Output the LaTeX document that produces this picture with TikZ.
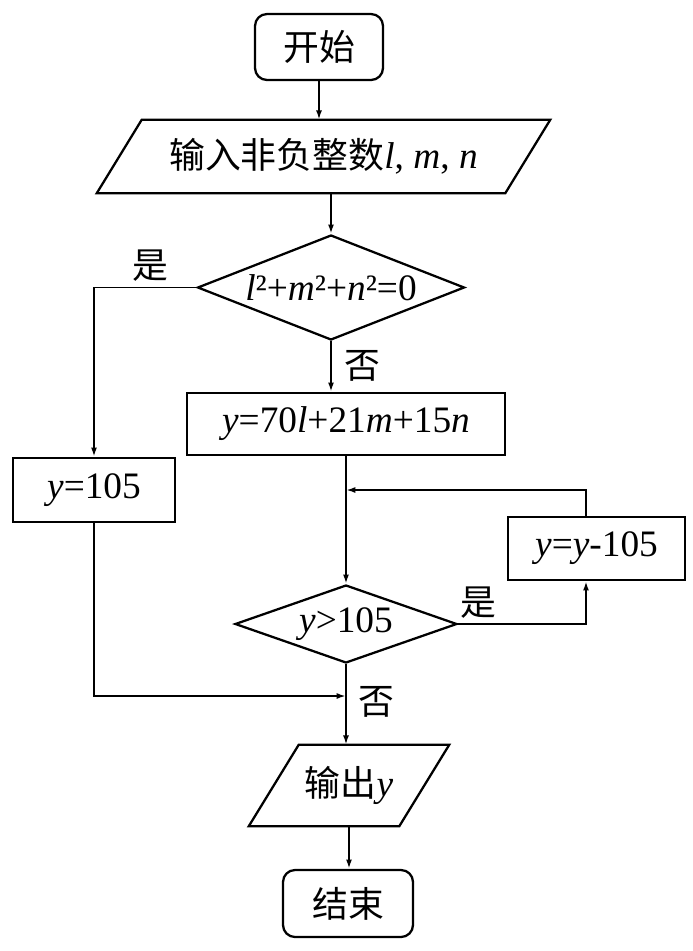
\documentclass[tikz,border=0pt]{standalone}
\usepackage{fontspec}
\setmainfont{Liberation Serif}
\newfontfamily\cjk[Scale=0.96]{Noto Sans CJK SC}
\usetikzlibrary{shapes.geometric,arrows.meta}
\def\px{*0.75pt}
\begin{document}
\begin{tikzpicture}[x=0.75pt,y=-0.75pt,
  every node/.style={font=\fontsize{28}{32}\selectfont, inner sep=0pt},
  shapeline/.style={draw, line width=1.7pt, line join=miter},
  term/.style={shapeline, rounded corners=9pt},
  procbox/.style={shapeline, rectangle},
  iobox/.style={rectangle},
  dec/.style={shapeline, diamond},
  arr/.style={line width=1.4pt, -{Latex[length=7pt,width=4.5pt]}},
  lab/.style={}]
\useasboundingbox (0,0) rectangle (693,951);

\node[term, minimum width=128\px, minimum height=66\px] (start) at (319,47) {\cjk 开始};
\node[iobox, minimum width=453\px, minimum height=73\px] (in) at (323.5,156.5) {{\cjk 输入非负整数}\textit{l}, \textit{m}, \textit{n}};
\draw[shapeline] ([xshift=45\px]in.north west) -- (in.north east) -- ([xshift=-45\px]in.south east) -- (in.south west) -- cycle;
\node[dec, shape aspect=2.54, minimum width=267\px, minimum height=105\px] (d1) at (331,287.5) {\textit{l}²+\textit{m}²+\textit{n}²=0};
\node[procbox, minimum width=318\px, minimum height=62\px] (box1) at (346,424) {\textit{y}=70\textit{l}+21\textit{m}+15\textit{n}};
\node[procbox, minimum width=162\px, minimum height=64\px] (box2) at (94,490) {\textit{y}=105};
\node[procbox, minimum width=177\px, minimum height=63\px] (box3) at (596.5,548.5) {\textit{y}=\textit{y}-105};
\node[dec, shape aspect=2.85, minimum width=222\px, minimum height=78\px] (d2) at (346,624) {\textit{y}>105};
\node[iobox, minimum width=200\px, minimum height=81\px] (out) at (349,785.5) {{\cjk 输出}\textit{y}};
\draw[shapeline] ([xshift=50\px]out.north west) -- (out.north east) -- ([xshift=-50\px]out.south east) -- (out.south west) -- cycle;
\node[term, minimum width=130\px, minimum height=67\px] (end) at (348,903.5) {\cjk 结束};

\node[lab] (l1) at (150,266) {\cjk 是};
\node[lab] (l2) at (362,366) {\cjk 否};
\node[lab] (l3) at (478,603) {\cjk 是};
\node[lab] (l4) at (376,702) {\cjk 否};

\coordinate (lp) at (586,490);
\coordinate (lb) at (94,696);

\draw[arr] (start.south) -- (start.south |- in.north);
\draw[arr] (d1.north |- in.south) -- (d1.north);
\draw[arr] (d1.west) -| (box2.north);
\draw[arr] (d1.south) -- (d1.south |- box1.north);
\draw[arr] (d2.north |- box1.south) -- (d2.north);
\draw[arr] (box3.north -| lp) -- (lp) -- (lp -| d2.north);
\draw[arr] (d2.east) -| (box3.south -| lp);
\draw[arr] (box2.south) -- (lb) -- (lb -| d2.south);
\draw[arr] (d2.south) -- (d2.south |- out.north);
\draw[arr] (out.south) -- (out.south |- end.north);
\end{tikzpicture}
\end{document}
